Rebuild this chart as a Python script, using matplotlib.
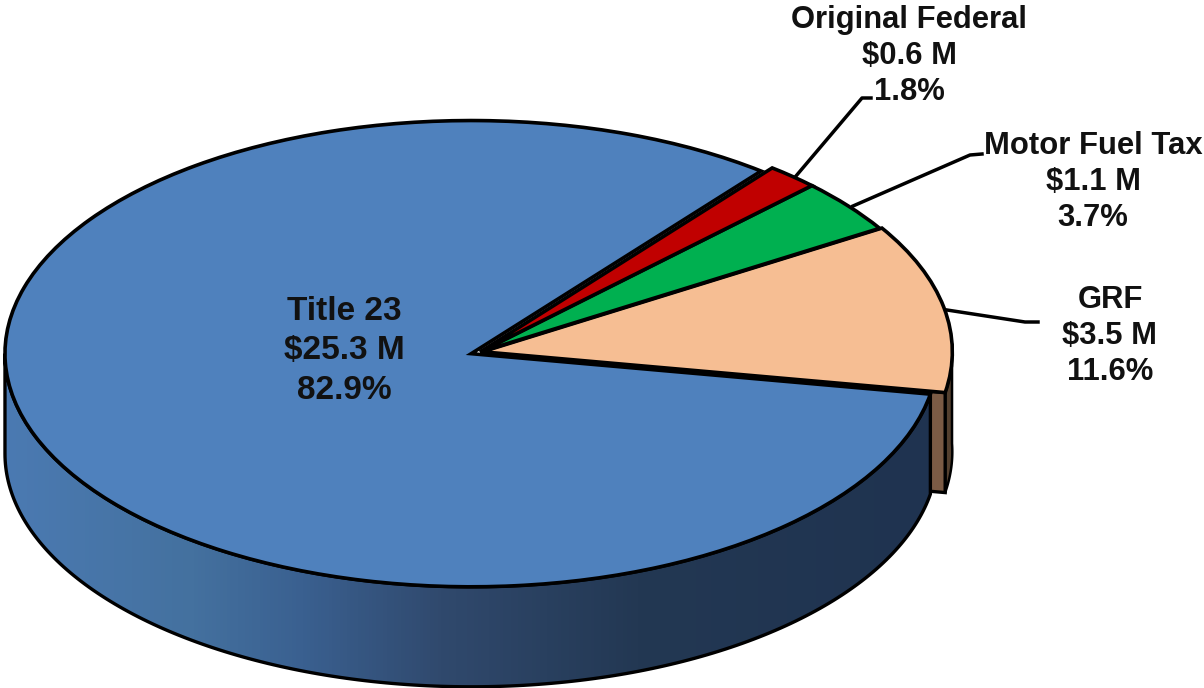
import numpy as np
import matplotlib
matplotlib.use("Agg")
import matplotlib.pyplot as plt
from matplotlib.patches import Polygon
from matplotlib.colors import LinearSegmentedColormap

# ---- data ----
categories = ["GRF", "Motor Fuel Tax", "Original Federal", "Title 23"]
amounts = ["$3.5 M", "$1.1 M", "$0.6 M", "$25.3 M"]
shares = [11.6, 3.7, 1.8, 82.9]
top_colors = ["#F6BE93", "#00B050", "#C00000", "#4F81BD"]
explode = [0.005, 0.0, 0.0, 0.02]

W, H = 1204, 688
CX, CY = 480, 352      # pie centre, pixels
RX, RY = 470, 235      # semi axes, pixels
DEPTH = 100 / RY       # thickness in data units
START = -10.0


def px(x, y):
    """pixel position -> data position"""
    return (x - CX) / RX, (CY - y) / RY


plt.rcParams["font.family"] = ["Liberation Sans", "DejaVu Sans"]
fig = plt.figure(figsize=(W / 100, H / 100), dpi=100)
ax = fig.add_axes([0, 0, 1, 1])

wedges, _ = ax.pie(shares, colors=top_colors, explode=explode, startangle=START,
                   counterclock=True, normalize=True,
                   wedgeprops=dict(edgecolor="black", linewidth=2.6))
ax.set_aspect("auto")
ax.set_axis_off()
for w in wedges:
    w.set_zorder(5)
wedges[3].set_radius(0.992)


def wedge_arc(w, a0, a1, n=200):
    t = np.radians(np.linspace(a0, a1, n))
    return w.center[0] + w.r * np.cos(t), w.center[1] + w.r * np.sin(t)


def side_path(w, a0, a1):
    x, y = wedge_arc(w, a0, a1)
    return np.r_[np.c_[x, y], np.c_[x[::-1], y[::-1] - DEPTH]]


grf, title = wedges[0], wedges[3]

# brown rim of GRF
rim = Polygon(side_path(grf, grf.theta1, 2), closed=True, fc="#54402F", ec="black", lw=1.8, zorder=1)
ax.add_patch(rim)

# brown cut face of GRF
cx0, cy0 = grf.center
x1, y1 = wedge_arc(grf, grf.theta1, grf.theta1, 1)
face = Polygon([(cx0, cy0), (x1[0], y1[0]), (x1[0], y1[0] - DEPTH), (cx0, cy0 - DEPTH)],
               closed=True, fc="#7B5B45", ec="black", lw=2.4, zorder=2)
ax.add_patch(face)

# Title 23 side with horizontal gradient
a0, a1 = 180.0, title.theta2
side = Polygon(side_path(title, a0, a1), closed=True, fc="none", ec="black", lw=2.4, zorder=4)
ax.add_patch(side)
cmap = LinearSegmentedColormap.from_list(
    "side", [(0, "#4B7AB2"), (0.2, "#44719F"), (0.32, "#3A6090"), (0.47, "#30496D"),
             (0.68, "#233853"), (1, "#1F3350")])
xl = px(5, 0)[0], px(935, 0)[0]
yl = px(0, 590)[1] - DEPTH, px(0, 350)[1]
im = ax.imshow(np.linspace(0, 1, 256)[None, :], cmap=cmap, extent=[xl[0], xl[1], yl[0], yl[1]],
               aspect="auto", zorder=3)
im.set_clip_path(side)
ax.set_xlim(px(0, 0)[0], px(W, 0)[0])
ax.set_ylim(px(0, H)[1], px(0, 0)[1])

# leader lines
leaders = [
    [(796, 176), (862, 98), (871, 98)],
    [(853, 206), (970, 155), (982, 154)],
    [(947, 310), (1025, 322), (1038, 322)],
]
for pts in leaders:
    xy = np.array([px(*p) for p in pts])
    ax.plot(xy[:, 0], xy[:, 1], color="black", lw=2.5, zorder=6, solid_joinstyle="round")

# labels
label_pos = [(1110, 336), (1093, 182), (909, 56), (344, 351)]
sizes = [22.3, 22.3, 22.3, 24]
spacing = [1.26, 1.26, 1.26, 1.36]
for cat, amt, sh, pos, fs, ls in zip(categories, amounts, shares, label_pos, sizes, spacing):
    x, y = px(*pos)
    ax.text(x, y, f"{cat}\n{amt}\n{sh}%", ha="center", va="center", fontsize=fs,
            fontweight="bold", color="#111111", linespacing=ls, zorder=7)

fig.savefig("out.png", dpi=100)
